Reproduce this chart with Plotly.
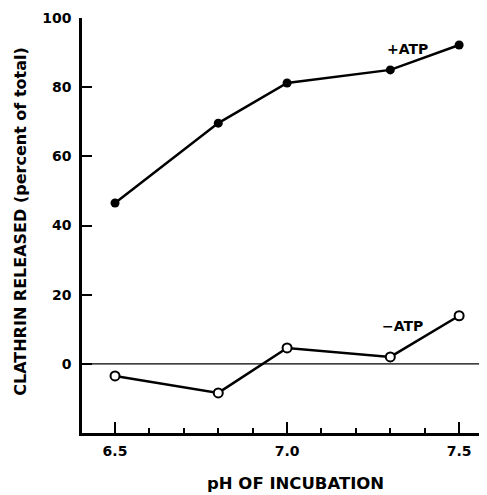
import plotly.graph_objects as go

ph = [6.5, 6.8, 7.0, 7.3, 7.5]
plus_atp = [46.5, 69.6, 81.2, 85.0, 92.2]
minus_atp = [-3.5, -8.4, 4.6, 2.0, 13.9]
y_ticks = [0, 20, 40, 60, 80, 100]
x_ticks = [6.5, 7.0, 7.5]
x_tick_labels = ["6.5", "7.0", "7.5"]

FAM = "DejaVu Sans, Liberation Sans, Arial, sans-serif"
font = dict(family=FAM, color="black")

fig = go.Figure()
fig.add_trace(go.Scatter(
    x=[6.3, 7.7], y=[0, 0], mode="lines",
    line=dict(color="black", width=1.2), showlegend=False, hoverinfo="skip"))
fig.add_trace(go.Scatter(
    x=ph, y=plus_atp, mode="lines+markers",
    line=dict(color="black", width=2.5),
    marker=dict(symbol="circle", size=9, color="black"),
    showlegend=False))
fig.add_trace(go.Scatter(
    x=ph, y=minus_atp, mode="lines+markers",
    line=dict(color="black", width=2.5),
    marker=dict(symbol="circle", size=9, color="white",
                line=dict(color="black", width=2)),
    showlegend=False))

fig.add_annotation(x=7.349, y=91, text="<b>+ATP</b>", showarrow=False,
                   font=dict(size=14, **font), xref="x", yref="y")
fig.add_annotation(x=7.334, y=11, text="<b>\u2212ATP</b>", showarrow=False,
                   font=dict(size=14, **font), xref="x", yref="y")
fig.add_annotation(x=0.526, y=-0.1205, xref="paper", yref="paper",
                   xanchor="center", yanchor="middle",
                   text="<b>pH OF INCUBATION</b>", showarrow=False,
                   font=dict(size=16.5, **font))
fig.add_annotation(x=-0.151, y=0.511, xref="paper", yref="paper",
                   xanchor="center", yanchor="middle",
                   text="<b>CLATHRIN RELEASED (percent of total)</b>", showarrow=False,
                   textangle=-90, font=dict(size=16, **font))

# The page body has an 8px default margin, so the figure is sized/offset to land
# its plot area at the same window pixels as the reference.
fig.update_layout(
    width=479, height=487,
    margin=dict(l=74, r=0, t=10, b=62, autoexpand=False),
    paper_bgcolor="white", plot_bgcolor="white",
    font=dict(size=14, **font),
)
fig.update_xaxes(
    range=[6.404, 7.581], showgrid=False, zeroline=False, automargin=False,
    showline=True, linecolor="black", linewidth=2.5,
    tickmode="array", tickvals=x_ticks, ticktext=["<b>%s</b>" % t for t in x_tick_labels],
    ticks="inside", ticklen=11, tickwidth=2, tickcolor="black",
    ticklabelstandoff=3,
    minor=dict(dtick=0.1, tick0=6.5, ticks="inside", ticklen=5, tickwidth=2, tickcolor="black"),
)
fig.update_yaxes(
    range=[-20, 100], showgrid=False, zeroline=False, automargin=False,
    showline=True, linecolor="black", linewidth=2.5,
    tickmode="array", tickvals=y_ticks, ticktext=["<b>%d</b>" % t for t in y_ticks],
    ticks="inside", ticklen=10, tickwidth=2, tickcolor="black",
    ticklabelstandoff=5,
)

fig.write_html("out.html")
